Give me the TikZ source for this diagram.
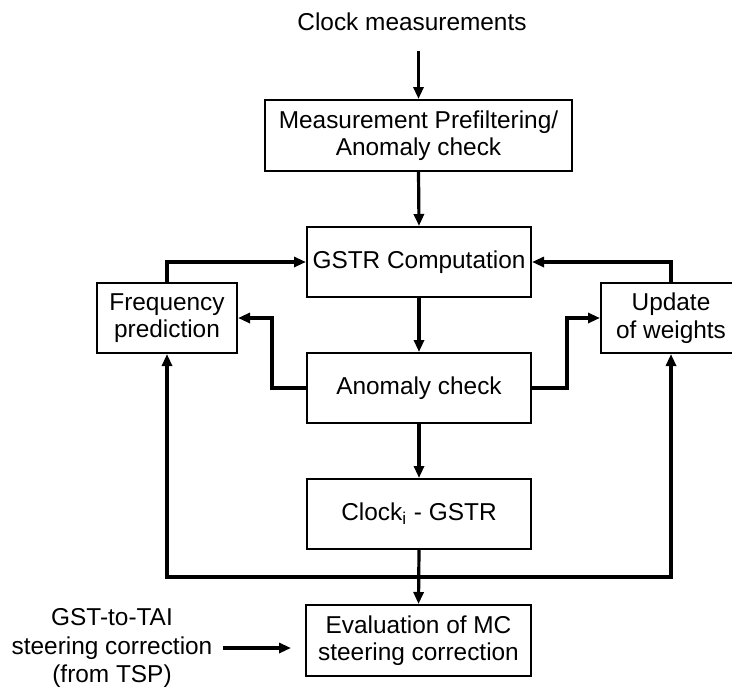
\documentclass[tikz,border=0pt]{standalone}
\usepackage{fontspec}
\setmainfont{Liberation Sans}
\usetikzlibrary{arrows.meta}

\begin{document}
\begin{tikzpicture}[x=0.5pt, y=-0.5pt,
    font=\fontsize{12.2}{13.8}\selectfont,
    block/.style={draw, line width=1pt, align=center, inner sep=0pt},
    conn/.style={line width=1.6pt, -{Triangle[length=6pt, width=5pt]}},
    wire/.style={line width=1.6pt}]
    \useasboundingbox (0,0) rectangle (732,691);
    \clip (0,0) rectangle (732,691);
    % text nodes and blocks
    \node[inner sep=0pt] (src) at (412,22) {Clock measurements};
    \node[block, minimum width=153.5pt, minimum height=35.5pt] (prefilt) at (418.5,135.5) {Measurement Prefiltering/\\Anomaly check};
    \node[block, minimum width=112pt, minimum height=35pt] (gstr) at (419,262) {GSTR Computation};
    \node[block, minimum width=112pt, minimum height=35pt] (anom) at (419,388) {Anomaly check};
    \node[block, minimum width=112pt, minimum height=35pt] (clk) at (419,514) {Clock\textsubscript{i} - GSTR};
    \node[block, minimum width=112.5pt, minimum height=35.5pt] (evalmc) at (418.5,640.5) {Evaluation of MC\\steering correction};
    \node[block, minimum width=70pt, minimum height=35pt] (freq) at (167,318) {Frequency\\prediction};
    \node[block, minimum width=70pt, minimum height=35pt] (upd) at (671,318) {Update\\of weights};
    \node[align=center, inner sep=5pt, font=\fontsize{12.2}{14.3}\selectfont] (gst) at (112,648) {GST-to-TAI\\steering correction\\(from TSP)};
    \coordinate (bus) at (419,577);
    % main chain
    \draw[conn] (src.south -| prefilt.north) ++(0,20) -- (prefilt.north);
    \draw[conn] (prefilt.south) -- (gstr.north);
    \draw[conn] (gstr.south) -- (anom.north);
    \draw[conn] (anom.south) -- (clk.north);
    \draw[conn] (clk.south) -- (evalmc.north);
    % feedback loops
    \draw[conn] (freq.north) |- (gstr.west);
    \draw[conn] (upd.north) |- (gstr.east);
    \draw[conn] (anom.west) -- ++(-34,0) |- (freq.east);
    \draw[conn] (anom.east) -- ++(35,0) |- (upd.west);
    \draw[conn] (bus) -| (freq.south);
    \draw[conn] (bus) -| (upd.south);
    % steering input
    \draw[conn, shorten >=7pt] (gst.east) -- (gst.east -| evalmc.west);
\end{tikzpicture}
\end{document}
